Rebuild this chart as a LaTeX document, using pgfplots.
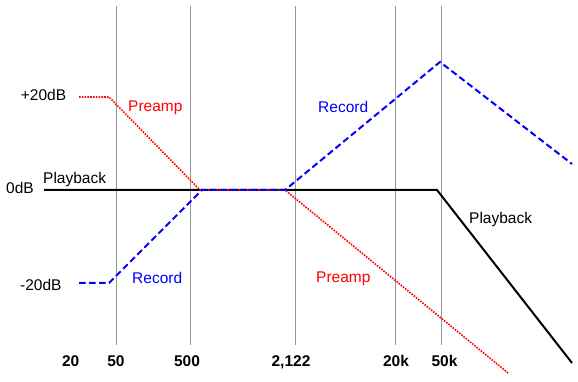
\documentclass[border=0pt]{standalone}
\usepackage{pgfplots}
\pgfplotsset{compat=1.18}
\usepackage{fontspec}
\setmainfont{Liberation Sans}
\definecolor{gridgray}{RGB}{150,150,150}
\definecolor{pblue}{RGB}{0,0,255}
\definecolor{pred}{RGB}{255,0,0}
\tikzset{lbl/.style={font=\fontsize{15.5}{18}\selectfont, inner sep=0pt, anchor=base west},
  flbl/.style={font=\fontsize{15.5}{18}\selectfont\bfseries, inner sep=0pt, anchor=base}}
\begin{document}
\begin{tikzpicture}
\begin{axis}[
  scale only axis, width=578pt, height=381pt,
  xmin=0, xmax=578, ymin=-41.08, ymax=40.86,
  hide axis, clip=false,
]
\path (rel axis cs:0,0) rectangle (rel axis cs:1,1);
% grid lines
\foreach \gx in {116.3,190.7,295.7,395.3,441.7}{
  \edef\tmp{\noexpand\addplot[gridgray, line width=1pt, forget plot] coordinates {(\gx,39.6) (\gx,-33.3)};}
  \tmp
}
% Playback
\addplot[black, line width=2pt] coordinates {(44,0) (437,0) (572,-37.2)};
% Preamp
\addplot[pred, line width=1.6pt, dash pattern=on 1.6pt off 1.2pt] coordinates {(79,20) (109,20) (200,0) (285,0) (508,-39.35)};
% Record
\addplot[pblue, line width=2pt, dash pattern=on 6.5pt off 3.5pt] coordinates {(79,-20) (109,-20) (202,0) (285,0) (440,27.53) (572,5.59)};
% axis texts
\node[lbl] at (axis cs:20.7,19.2) {+20dB};
\node[lbl] at (axis cs:6,-0.86) {0dB};
\node[lbl] at (axis cs:20,-21.66) {-20dB};
\node[lbl] at (axis cs:43,1.29) {Playback};
\node[lbl, text=pred] at (axis cs:128,16.84) {Preamp};
\node[lbl, text=pblue] at (axis cs:318,16.71) {Record};
\node[lbl, text=pblue] at (axis cs:132,-20.06) {Record};
\node[lbl, text=pred] at (axis cs:316,-20.0) {Preamp};
\node[lbl] at (axis cs:469,-7.31) {Playback};
% frequency labels
\node[flbl] at (axis cs:70.7,-38.0) {20};
\node[flbl] at (axis cs:116,-38.0) {50};
\node[flbl] at (axis cs:187,-38.0) {500};
\node[flbl] at (axis cs:291,-38.0) {2,122};
\node[flbl] at (axis cs:396,-38.0) {20k};
\node[flbl] at (axis cs:444.5,-38.0) {50k};
\end{axis}
\end{tikzpicture}
\end{document}
